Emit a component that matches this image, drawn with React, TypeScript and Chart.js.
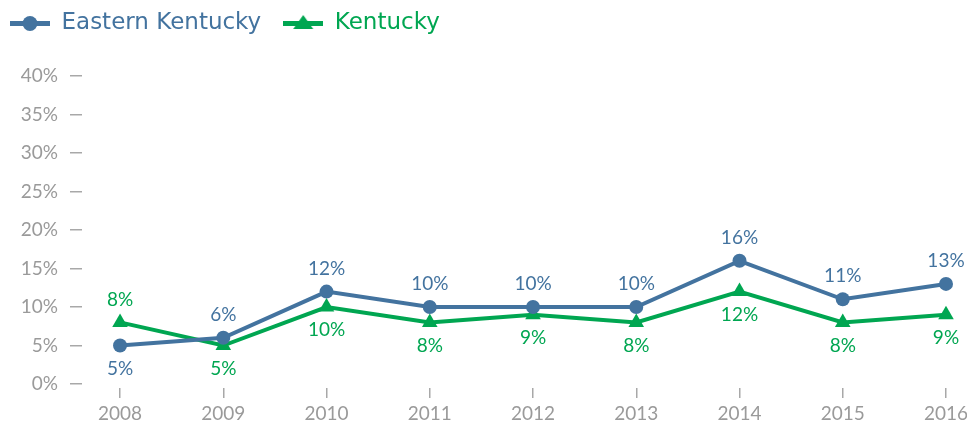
import React, { useEffect, useRef } from 'react';
import { Chart, registerables } from 'chart.js';

Chart.register(...registerables);

// ---- data ----
const years = [2008, 2009, 2010, 2011, 2012, 2013, 2014, 2015, 2016];
const easternKentucky = [5, 6, 12, 10, 10, 10, 16, 11, 13];
const kentucky = [8, 5, 10, 8, 9, 8, 12, 8, 9];
const yTickValues = [0, 5, 10, 15, 20, 25, 30, 35, 40];
const seriesNames = ['Eastern Kentucky', 'Kentucky'];

// ---- styles ----
const BLUE = '#43739f';
const GREEN = '#00a651';
const GRAY = '#9a9a9a';
const TICK_GRAY = '#a8a8a8';
const NUM_FONT = 'Lato';
const LEGEND_FONT = '"DejaVu Sans"';

function makeMarker(color: string, shape: 'circle' | 'triangle'): HTMLCanvasElement {
  const c = document.createElement('canvas');
  c.width = 40;
  c.height = 21;
  const g = c.getContext('2d')!;
  g.strokeStyle = color;
  g.fillStyle = color;
  g.lineWidth = 5;
  g.beginPath();
  g.moveTo(0, 10.5);
  g.lineTo(40, 10.5);
  g.stroke();
  g.beginPath();
  if (shape === 'circle') {
    g.arc(20, 10.5, 7.5, 0, Math.PI * 2);
  } else {
    g.moveTo(20, 2);
    g.lineTo(30, 16);
    g.lineTo(10, 16);
    g.closePath();
  }
  g.fill();
  return c;
}

const valueLabels = {
  id: 'valueLabels',
  afterDatasetsDraw(chart: any) {
    const { ctx } = chart;
    const series = [easternKentucky, kentucky];
    ctx.save();
    ctx.font = `19px ${NUM_FONT}`;
    ctx.textAlign = 'center';
    ctx.textBaseline = 'middle';
    chart.data.datasets.forEach((ds: any, di: number) => {
      const meta = chart.getDatasetMeta(di);
      const own = series[di];
      const other = series[1 - di];
      meta.data.forEach((pt: any, i: number) => {
        const above = own[i] >= other[i];
        ctx.fillStyle = ds.borderColor;
        ctx.fillText(own[i] + '%', pt.x, pt.y + (above ? -23 : 23));
      });
    });
    ctx.restore();
  },
};

export default function App() {
  const ref = useRef<HTMLCanvasElement | null>(null);

  useEffect(() => {
    if (!ref.current) return;
    const markers = [makeMarker(BLUE, 'circle'), makeMarker(GREEN, 'triangle')];
    const colors = [BLUE, GREEN];

    const chart = new Chart(ref.current, {
      type: 'line',
      data: {
        datasets: [
          {
            label: seriesNames[0],
            data: years.map((x, i) => ({ x, y: easternKentucky[i] })),
            borderColor: BLUE,
            backgroundColor: BLUE,
            borderWidth: 4,
            pointStyle: 'circle',
            pointRadius: 7,
            pointBorderWidth: 0,
            pointBackgroundColor: BLUE,
            tension: 0,
          },
          {
            label: seriesNames[1],
            data: years.map((x, i) => ({ x, y: kentucky[i] })),
            borderColor: GREEN,
            backgroundColor: GREEN,
            borderWidth: 4,
            pointStyle: 'triangle',
            pointRadius: 9,
            pointBorderWidth: 0,
            pointBackgroundColor: GREEN,
            tension: 0,
          },
        ],
      },
      options: {
        responsive: false,
        animation: false,
        layout: { padding: { left: -12, top: -10, right: 0, bottom: 0 } },
        plugins: {
          tooltip: { enabled: false },
          legend: {
            position: 'top',
            align: 'start',
            onClick: () => {},
            labels: {
              usePointStyle: true,
              pointStyleWidth: 40,
              padding: 22,
              font: { family: LEGEND_FONT, size: 23 },
              generateLabels: (ch: any) =>
                ch.data.datasets.map((ds: any, i: number) => ({
                  text: ds.label,
                  fontColor: colors[i],
                  fillStyle: colors[i],
                  strokeStyle: colors[i],
                  lineWidth: 0,
                  pointStyle: markers[i],
                  hidden: false,
                  datasetIndex: i,
                })),
            },
          },
        },
        scales: {
          x: {
            type: 'linear',
            min: 2007.6315,
            max: 2016.1163,
            afterBuildTicks: (scale: any) => {
              scale.ticks = years.map((v) => ({ value: v }));
            },
            afterFit: (scale: any) => {
              scale.height = 36;
              scale.paddingLeft = 0;
              scale.paddingRight = 0;
            },
            border: { display: false },
            grid: {
              drawOnChartArea: false,
              drawTicks: true,
              tickLength: 10,
              color: TICK_GRAY,
              lineWidth: 1.5,
            },
            ticks: {
              padding: 4,
              color: GRAY,
              font: { family: NUM_FONT, size: 19 },
              maxRotation: 0,
              callback: (v: any) => String(v),
            },
          },
          y: {
            min: -0.519,
            max: 44.026,
            afterBuildTicks: (scale: any) => {
              scale.ticks = yTickValues.map((v) => ({ value: v }));
            },
            afterFit: (scale: any) => {
              scale.width = 94;
              scale.paddingTop = 0;
              scale.paddingBottom = 0;
            },
            border: { display: false },
            grid: {
              drawOnChartArea: false,
              drawTicks: true,
              tickLength: 12,
              color: TICK_GRAY,
              lineWidth: 1.5,
            },
            ticks: {
              padding: 12,
              color: GRAY,
              font: { family: NUM_FONT, size: 19 },
              callback: (v: any) => v + '%',
            },
          },
        },
      },
      plugins: [valueLabels],
    } as any);

    return () => chart.destroy();
  }, []);

  return (
    <div style={{ position: 'absolute', left: 0, top: 0, width: 967, height: 424 }}>
      <canvas ref={ref} width={967} height={424} style={{ display: 'block' }} />
    </div>
  );
}
